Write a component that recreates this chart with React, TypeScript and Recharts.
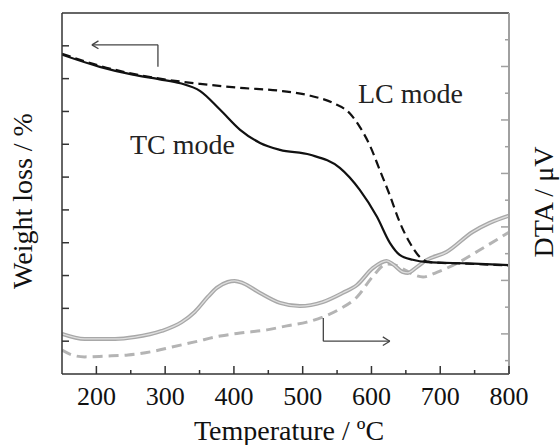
import React from 'react';
import { LineChart, Line, XAxis, YAxis, ReferenceLine } from 'recharts';

// TG curves (weight loss, arbitrary units on left axis)
const tcTemps = [150, 205, 253, 292, 322, 351, 380, 409, 438, 467, 511, 554, 583, 608, 627, 641, 660, 681, 740, 800];
const tcWeight = [9.73, 9.36, 9.12, 8.98, 8.86, 8.62, 8.05, 7.44, 7.04, 6.83, 6.68, 6.28, 5.61, 4.79, 3.99, 3.63, 3.48, 3.41, 3.37, 3.32];

const lcTemps = [150, 205, 292, 351, 409, 467, 511, 544, 569, 583, 598, 612, 627, 641, 656, 670, 685, 740, 800];
const lcWeight = [9.76, 9.39, 9.0, 8.84, 8.72, 8.63, 8.48, 8.26, 7.93, 7.53, 6.95, 6.22, 5.43, 4.63, 3.99, 3.57, 3.41, 3.36, 3.31];

// DTA curves (right axis)
const dtaTcTemps = [150, 183, 227, 256, 295, 324, 343, 362, 375, 391, 401, 413, 438, 467, 496, 529, 558, 579, 602, 622, 631, 646, 653, 666, 680, 709, 747, 772, 800];
const dtaTcValues = [1.0, 0.81, 0.81, 0.88, 1.11, 1.44, 1.82, 2.38, 2.72, 2.94, 2.98, 2.9, 2.53, 2.16, 2.04, 2.19, 2.53, 2.83, 3.46, 3.73, 3.61, 3.31, 3.28, 3.5, 3.76, 4.06, 4.81, 5.15, 5.42];

const dtaLcTemps = [150, 165, 183, 213, 246, 285, 310, 343, 380, 409, 448, 477, 506, 529, 554, 579, 602, 622, 634, 649, 663, 675, 695, 728, 755, 800];
const dtaLcValues = [0.4, 0.21, 0.14, 0.17, 0.21, 0.36, 0.51, 0.7, 0.92, 1.03, 1.15, 1.3, 1.44, 1.63, 1.93, 2.38, 3.15, 3.61, 3.58, 3.39, 3.2, 3.13, 3.3, 3.69, 4.1, 4.8];

const xTicks = [200, 250, 300, 350, 400, 450, 500, 550, 600, 650, 700, 750, 800];
const leftTicks = [1, 2, 3, 4, 5, 6, 7, 8, 9, 10];
const rightTicks = [0, 1, 2, 3, 4, 5, 6, 7, 8, 9, 10, 11, 12];

const xLabel = 'Temperature / ºC';
const leftLabel = 'Weight loss / %';
const rightLabel = 'DTA / μV';
const tcLabel = 'TC mode';
const lcLabel = 'LC mode';

const zip = (xs: number[], ys: number[]) => xs.map((t, i) => ({ t, v: ys[i] }));
const tcData = zip(tcTemps, tcWeight);
const lcData = zip(lcTemps, lcWeight);
const dtaTcData = zip(dtaTcTemps, dtaTcValues);
const dtaLcData = zip(dtaLcTemps, dtaLcValues);

const FONT = '"Liberation Serif", "Times New Roman", serif';
const AXIS = '#333';
const RIGHT_AXIS = '#a0a0a0';

const XTick = (props: any) => {
  const { x, y, payload } = props;
  const major = payload.value % 100 === 0;
  return (
    <g>
      <line x1={x} x2={x} y1={y} y2={y - (major ? 8 : 4)} stroke={AXIS} strokeWidth={1.5} />
      {major && (
        <text x={x} y={y + 31} textAnchor="middle" fontFamily={FONT} fontSize={26} fill="#111">
          {payload.value}
        </text>
      )}
    </g>
  );
};

const LeftTick = (props: any) => {
  const { x, y } = props;
  return <line x1={x} x2={x + 7} y1={y} y2={y} stroke={AXIS} strokeWidth={1.5} />;
};

const RightTick = (props: any) => {
  const { x, y, payload } = props;
  const long = payload.value % 2 === 1;
  return <line x1={x} x2={x - (long ? 8 : 4)} y1={y} y2={y} stroke={RIGHT_AXIS} strokeWidth={1.5} />;
};

// arrow annotations in data coordinates (left axis units)
const leftArrowY = 10.03;
const rightArrowY = 1.0;

export default function App() {
  return (
    <div style={{ position: 'absolute', left: 0, top: 0, width: 560, height: 445, background: '#fff' }}>
      <LineChart width={560} height={445} margin={{ top: 12, right: 50, bottom: 70, left: 61 }}>
        <XAxis
          xAxisId="b"
          dataKey="t"
          type="number"
          domain={[150, 800]}
          ticks={xTicks}
          interval={0}
          height={1}
          tickSize={0}
          tickMargin={0}
          tickLine={false}
          tick={<XTick />}
          axisLine={{ stroke: AXIS, strokeWidth: 1.5 }}
          allowDataOverflow
        />
        <XAxis
          xAxisId="top"
          orientation="top"
          dataKey="t"
          type="number"
          domain={[150, 800]}
          height={1}
          tick={false}
          tickLine={false}
          axisLine={{ stroke: AXIS, strokeWidth: 1.5 }}
        />
        <YAxis
          yAxisId="left"
          type="number"
          domain={[0, 11]}
          ticks={leftTicks}
          interval={0}
          width={1}
          tickSize={0}
          tickMargin={0}
          tickLine={false}
          tick={<LeftTick />}
          axisLine={{ stroke: AXIS, strokeWidth: 1.5 }}
        />
        <YAxis
          yAxisId="right"
          orientation="right"
          type="number"
          domain={[-0.5, 13]}
          ticks={rightTicks}
          interval={0}
          width={1}
          tickSize={0}
          tickMargin={0}
          tickLine={false}
          tick={<RightTick />}
          axisLine={{ stroke: RIGHT_AXIS, strokeWidth: 2 }}
        />

        <Line xAxisId="b" yAxisId="right" data={dtaLcData} dataKey="v" type="monotone" dot={false}
          stroke="#b4b4b4" strokeWidth={3} strokeDasharray="10 6" isAnimationActive={false} />
        <Line xAxisId="b" yAxisId="right" data={dtaTcData} dataKey="v" type="monotone" dot={false}
          stroke="#a8a8a8" strokeWidth={4} isAnimationActive={false} />
        <Line xAxisId="b" yAxisId="right" data={dtaTcData} dataKey="v" type="monotone" dot={false}
          stroke="#dedede" strokeWidth={1.3} isAnimationActive={false} />

        <Line xAxisId="b" yAxisId="left" data={lcData} dataKey="v" type="monotone" dot={false}
          stroke="#111" strokeWidth={2.2} strokeDasharray="9 5" isAnimationActive={false} />
        <Line xAxisId="b" yAxisId="left" data={tcData} dataKey="v" type="monotone" dot={false}
          stroke="#111" strokeWidth={2.2} isAnimationActive={false} />

        {/* left-pointing arrow (TG curves -> left axis) */}
        <ReferenceLine xAxisId="b" yAxisId="left" segment={[{ x: 193.5, y: leftArrowY }, { x: 289.5, y: leftArrowY }]} stroke="#444" strokeWidth={1.3} />
        <ReferenceLine xAxisId="b" yAxisId="left" segment={[{ x: 289.5, y: leftArrowY }, { x: 289.5, y: 9.36 }]} stroke="#444" strokeWidth={1.3} />
        <ReferenceLine xAxisId="b" yAxisId="left" segment={[{ x: 193.5, y: leftArrowY }, { x: 203, y: 10.15 }]} stroke="#444" strokeWidth={1.3} />
        <ReferenceLine xAxisId="b" yAxisId="left" segment={[{ x: 193.5, y: leftArrowY }, { x: 203, y: 9.91 }]} stroke="#444" strokeWidth={1.3} />

        {/* right-pointing arrow (DTA curves -> right axis) */}
        <ReferenceLine xAxisId="b" yAxisId="left" segment={[{ x: 530, y: 1.71 }, { x: 530, y: rightArrowY }]} stroke="#444" strokeWidth={1.3} />
        <ReferenceLine xAxisId="b" yAxisId="left" segment={[{ x: 530, y: rightArrowY }, { x: 626.7, y: rightArrowY }]} stroke="#444" strokeWidth={1.3} />
        <ReferenceLine xAxisId="b" yAxisId="left" segment={[{ x: 626.7, y: rightArrowY }, { x: 616.5, y: 1.13 }]} stroke="#444" strokeWidth={1.3} />
        <ReferenceLine xAxisId="b" yAxisId="left" segment={[{ x: 626.7, y: rightArrowY }, { x: 616.5, y: 0.87 }]} stroke="#444" strokeWidth={1.3} />
      </LineChart>

      <svg width={560} height={445} style={{ position: 'absolute', left: 0, top: 0, pointerEvents: 'none' }}>
        <text x={130} y={154} fontFamily={FONT} fontSize={28} fill="#222">{tcLabel}</text>
        <text x={358} y={103} fontFamily={FONT} fontSize={28} fill="#222">{lcLabel}</text>
        <text x={289} y={440} textAnchor="middle" fontFamily={FONT} fontSize={28} fill="#111">{xLabel}</text>
        <text x={32} y={201} textAnchor="middle" fontFamily={FONT} fontSize={28} fill="#111" transform="rotate(-90 32 201)">{leftLabel}</text>
        <text x={553} y={202} textAnchor="middle" fontFamily={FONT} fontSize={28} fill="#111" transform="rotate(-90 553 202)">{rightLabel}</text>
      </svg>
    </div>
  );
}
